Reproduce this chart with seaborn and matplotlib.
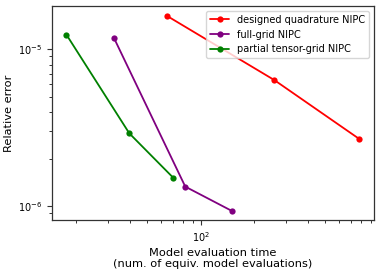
import pandas as pd
import matplotlib
matplotlib.use("Agg")
import matplotlib.pyplot as plt
import matplotlib.ticker as mticker
import seaborn as sns

# values
methods = ["designed quadrature NIPC", "full-grid NIPC", "partial tensor-grid NIPC"]
dq_time = [64.9, 259, 778]
dq_err = [1.63e-5, 6.37e-6, 2.68e-6]
fg_time = [32.5, 81.9, 149]
fg_err = [1.186e-5, 1.33e-6, 9.33e-7]
pt_time = [17.6, 39.7, 69.9]
pt_err = [1.24e-5, 2.91e-6, 1.52e-6]
colors = ["red", "purple", "green"]

df = pd.concat([
    pd.DataFrame({"time": dq_time, "err": dq_err, "method": methods[0]}),
    pd.DataFrame({"time": fg_time, "err": fg_err, "method": methods[1]}),
    pd.DataFrame({"time": pt_time, "err": pt_err, "method": methods[2]}),
])

sns.set_style("ticks", {"text.color": "black", "axes.labelcolor": "black",
                        "xtick.color": "#333333", "ytick.color": "#333333"})
fig = plt.figure(figsize=(3.81, 2.73), dpi=100)
ax = fig.add_axes([0.1365, 0.194, 0.845, 0.784])
sns.lineplot(data=df, x="time", y="err", hue="method", palette=colors,
             marker="o", markersize=4.5, markeredgewidth=0, linewidth=1.3,
             ax=ax, sort=False)
ax.set_xscale("log")
ax.set_yscale("log")
ax.set_xlim(14.6, 941)
ax.set_ylim(8.14e-7, 1.89e-5)
for axis in (ax.xaxis, ax.yaxis):
    axis.set_minor_locator(mticker.LogLocator(base=10, subs=range(2, 10), numticks=20))
    axis.set_minor_formatter(mticker.NullFormatter())
ax.tick_params(which="both", bottom=True, left=True, top=False, right=False,
               direction="out", color="#333333", labelcolor="black")
ax.tick_params(which="major", labelsize=7, length=3.5, width=0.8)
ax.tick_params(which="minor", length=2.5, width=0.7)
for s in ax.spines.values():
    s.set_visible(True)
    s.set_color("#333333")
    s.set_linewidth(0.9)
ax.set_xlabel("Model evaluation time\n(num. of equiv. model evaluations)", fontsize=8.2, labelpad=3)
ax.set_ylabel("Relative error", fontsize=8.2, labelpad=3)
leg = ax.legend(loc="upper right", fontsize=7, title=None)
for t in leg.get_texts():
    t.set_color("black")
fig.savefig("out.png", dpi=100)
